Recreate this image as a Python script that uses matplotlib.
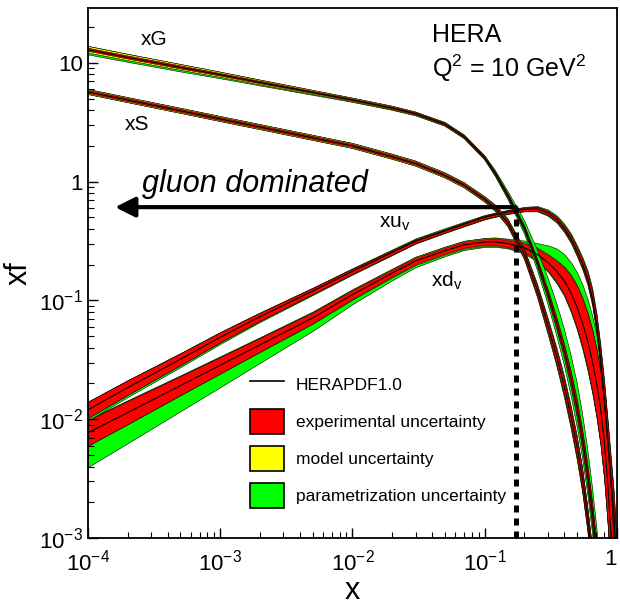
import numpy as np
import matplotlib
matplotlib.use("Agg")
import matplotlib.pyplot as plt
from matplotlib.lines import Line2D
from matplotlib.patches import Patch

plt.rcParams['font.family'] = ['Liberation Sans', 'DejaVu Sans']
plt.rcParams['mathtext.fontset'] = 'custom'
plt.rcParams['mathtext.rm'] = 'Liberation Sans'
plt.rcParams['mathtext.it'] = 'Liberation Sans:italic'
plt.rcParams['mathtext.bf'] = 'Liberation Sans:bold'

# x values the curves were read at
x_pts = [1e-4, 2e-4, 5e-4, 1e-3, 2e-3, 5e-3, 0.01, 0.02, 0.03, 0.05, 0.07, 0.1, 0.12, 0.15,
         0.2, 0.25, 0.3, 0.35, 0.4, 0.45, 0.5, 0.55, 0.6, 0.65, 0.7, 0.75, 0.8, 0.85, 0.9,
         0.95, 0.98]

# gluon
xg_cen = [12.9, 11.1, 9.16, 7.94, 6.84, 5.64, 4.87, 4.16, 3.73, 3.05, 2.39, 1.59, 1.175, 0.76,
          0.405, 0.211, 0.115, 0.065, 0.038, 0.022, 0.0125, 0.0068, 0.0035, 0.0017, 0.0008,
          0.00035, 0.00015, 0.00006, 0.00002, 0.000006, 0.000002]
xg_exp = [.03, .03, .03, .025, .025, .02, .02, .02, .02, .02, .02, .02, .025, .03,
          .04, .06, .08, .1, .12, .14, .16, .18, .2, .22, .24, .25, .25, .25, .25, .25, .25]
xg_mod = [.06, .055, .05, .045, .04, .035, .03, .03, .025, .025, .025, .025, .03, .03,
          .04, .05, .06, .07, .08, .09, .1, .1, .1, .1, .1, .1, .1, .1, .1, .1, .1]
xg_par_lo = [.08, .075, .07, .06, .05, .04, .03, .025, .025, .025, .025, .03, .04, .06,
             .1, .15, .2, .25, .3, .35, .4, .4, .4, .4, .4, .4, .4, .4, .4, .4, .4]
xg_par_hi = [.01, .01, .01, .01, .01, .01, .01, .01, .01, .01, .015, .03, .05, .08,
             .15, .25, .35, .45, .5, .55, .6, .6, .6, .6, .6, .6, .6, .6, .6, .6, .6]

# sea
xs_cen = [5.69, 4.86, 3.95, 3.37, 2.88, 2.34, 2.0, 1.62, 1.42, 1.13, 0.933, 0.71, 0.60, 0.45,
          0.245, 0.122, 0.062, 0.034, 0.019, 0.0105, 0.0058, 0.0031, 0.0015, 0.0007, 0.0003,
          0.00012, 0.00005, 0.00002, 0.000007, 0.000002, 0.000001]
xs_exp = [.03, .03, .03, .03, .03, .03, .03, .03, .03, .03, .03, .03, .04, .05,
          .07, .09, .11, .13, .15, .17, .19, .2, .2, .2, .2, .2, .2, .2, .2, .2, .2]
xs_mod = [.04, .04, .04, .04, .04, .04, .04, .04, .04, .04, .04, .04, .04, .05,
          .06, .07, .08, .09, .1, .1, .1, .1, .1, .1, .1, .1, .1, .1, .1, .1, .1]
xs_par = [.005, .005, .005, .005, .005, .005, .005, .005, .005, .005, .01, .02, .03, .04,
          .06, .08, .1, .12, .14, .15, .15, .15, .15, .15, .15, .15, .15, .15, .15, .15, .15]

# u valence
xuv_cen = [0.0120, 0.0185, 0.0320, 0.0490, 0.0730, 0.120, 0.176, 0.254, 0.315, 0.385, 0.438,
           0.501, 0.526, 0.556, 0.586, 0.59, 0.547, 0.483, 0.405, 0.331, 0.259, 0.203, 0.154,
           0.107, 0.0644, 0.0336, 0.0164, 0.0074, 0.0034, 0.00163, 0.0008]
xuv_exp = [.17, .15, .12, .1, .08, .06, .05, .04, .035, .03, .03, .03, .03, .03,
           .03, .035, .04, .045, .05, .06, .07, .08, .1, .12, .15, .18, .22, .26, .3, .35, .4]
xuv_mod = [.03, .03, .03, .03, .02, .02, .02, .02, .02, .02, .02, .02, .02, .02,
           .02, .02, .02, .02, .03, .03, .03, .04, .04, .05, .05, .06, .06, .07, .07, .08, .08]
xuv_par_lo = [.15, .13, .11, .09, .07, .05, .04, .03, .025, .02, .02, .02, .02, .02,
              .02, .03, .04, .05, .06, .07, .08, .09, .1, .12, .14, .16, .18, .2, .22, .24, .26]
xuv_par_hi = [.02, .02, .02, .02, .02, .02, .03, .04, .04, .04, .035, .03, .025, .02,
              .03, .04, .05, .06, .07, .08, .09, .1, .12, .14, .16, .18, .2, .22, .24, .26, .28]

# d valence
xdv_cen = [0.00769, 0.0114, 0.0192, 0.0285, 0.0423, 0.0713, 0.112, 0.170, 0.215, 0.262, 0.294,
           0.310, 0.311, 0.301, 0.278, 0.244, 0.209, 0.176, 0.146, 0.115, 0.0877, 0.0644,
           0.0458, 0.0314, 0.0205, 0.0127, 0.0068, 0.0030, 0.0011, 0.0003, 0.0001]
xdv_exp = [.28, .25, .2, .17, .14, .11, .09, .07, .065, .06, .06, .06, .065, .07,
           .09, .12, .16, .22, .3, .4, .5, .6, .7, .8, .9, 1.0, 1.1, 1.2, 1.3, 1.4, 1.5]
xdv_mod = [.05, .05, .05, .05, .05, .05, .05, .05, .05, .05, .05, .05, .05, .05,
           .06, .07, .08, .1, .12, .14, .16, .18, .2, .2, .2, .2, .2, .2, .2, .2, .2]
xdv_par_lo = [.9, .77, .61, .5, .39, .26, .175, .12, .1, .08, .07, .06, .055, .05,
              .05, .06, .08, .1, .12, .15, .2, .25, .3, .3, .3, .3, .3, .3, .3, .3, .3]
xdv_par_hi = [.1, .09, .08, .07, .06, .05, .04, .03, .03, .03, .03, .03, .04, .05,
              .1, .2, .35, .5, .6, .7, .8, .9, 1.0, 1.1, 1.2, 1.3, 1.4, 1.5, 1.6, 1.7, 1.8]

legend_labels = ['HERAPDF1.0', 'experimental uncertainty', 'model uncertainty',
                 'parametrization uncertainty']

# gluon/valence crossing marked by the arrow
x_cross = 0.172
y_cross = 0.61

RED = '#ff0000'
YELLOW = '#ffff00'
GREEN = '#00ff00'


def draw_pdf(ax, cen, exp, mod, par_lo, par_hi):
    cen = np.asarray(cen)
    exp = np.asarray(exp)
    em = np.hypot(exp, np.asarray(mod))
    tot_lo = np.hypot(em, np.asarray(par_lo))
    tot_hi = np.hypot(em, np.asarray(par_hi))
    # green = total, yellow = exp+model, red = exp only
    for e_lo, e_hi, col in [(tot_lo, tot_hi, GREEN), (em, em, YELLOW), (exp, exp, RED)]:
        ax.fill_between(x_pts, cen / (1 + e_lo), cen * (1 + e_hi),
                        facecolor=col, edgecolor='black', linewidth=0.4)
    ax.plot(x_pts, cen, color='black', lw=0.8)


fig = plt.figure(figsize=(6.2, 6.1), dpi=100)
ax = fig.add_axes([0.142, 0.118, 0.853, 0.869])

draw_pdf(ax, xdv_cen, xdv_exp, xdv_mod, xdv_par_lo, xdv_par_hi)
draw_pdf(ax, xuv_cen, xuv_exp, xuv_mod, xuv_par_lo, xuv_par_hi)
draw_pdf(ax, xs_cen, xs_exp, xs_mod, xs_par, xs_par)
draw_pdf(ax, xg_cen, xg_exp, xg_mod, xg_par_lo, xg_par_hi)

ax.set_xscale('log')
ax.set_yscale('log')
ax.set_xlim(1e-4, 1)
ax.set_ylim(1e-3, 29)

ax.set_xticks([1e-4, 1e-3, 1e-2, 1e-1, 1])
ax.set_xticklabels([r'$10^{-4}$', r'$10^{-3}$', r'$10^{-2}$', r'$10^{-1}$', '1'])
ax.set_yticks([1e-3, 1e-2, 1e-1, 1, 10])
ax.set_yticklabels([r'$10^{-3}$', r'$10^{-2}$', r'$10^{-1}$', '1', '10'])
ax.tick_params(which='both', direction='in', top=False, right=False, labelsize=16)
ax.tick_params(which='major', length=7, width=1)
ax.tick_params(which='minor', length=4, width=0.8)
ax.tick_params(axis='x', pad=8)
ax.get_xticklabels()[-1].set_horizontalalignment('right')
for sp in ax.spines.values():
    sp.set_linewidth(1.3)

ax.set_xlabel('x', fontsize=22, labelpad=1)
ax.set_ylabel('xf', fontsize=22, labelpad=4)

# curve labels
ax.text(3.16e-4, 15.6, 'xG', fontsize=15, ha='center', va='center')
ax.text(2.34e-4, 3.05, 'xS', fontsize=15, ha='center', va='center')
ax.text(0.0209, 0.447, r'xu$_\mathrm{v}$', fontsize=15, ha='center', va='center')
ax.text(0.0516, 0.145, r'xd$_\mathrm{v}$', fontsize=15, ha='center', va='center')

ax.text(0.65, 0.949, 'HERA', transform=ax.transAxes, fontsize=18, va='center')
ax.text(0.65, 0.887, r'Q$^2$ = 10 GeV$^2$', transform=ax.transAxes, fontsize=18, va='center')

# gluon dominated region
ax.annotate('', xy=(1.6e-4, y_cross), xytext=(x_cross, y_cross),
            arrowprops=dict(arrowstyle='-|>,head_length=0.6,head_width=0.3', mutation_scale=20,
                            lw=3, color='black', shrinkA=0, shrinkB=0))
ax.text(2.56e-4, 0.815, 'gluon dominated', fontsize=22, style='italic', va='baseline')
ax.plot([x_cross, x_cross], [1e-3, y_cross], color='black', lw=3.6, dashes=(1.4, 1.2),
        clip_on=False)

handles = [Line2D([], [], color='black', lw=1.2),
           Patch(facecolor=RED, edgecolor='black', lw=1.2),
           Patch(facecolor=YELLOW, edgecolor='black', lw=1.2),
           Patch(facecolor=GREEN, edgecolor='black', lw=1.2)]
ax.legend(handles, legend_labels, loc='upper left', bbox_to_anchor=(0.306, 0.314),
          frameon=False, fontsize=12.5, handlelength=1.96, handleheight=1.84,
          labelspacing=0.69, handletextpad=0.69, borderaxespad=0, borderpad=0)

fig.savefig('out.png', dpi=100)
